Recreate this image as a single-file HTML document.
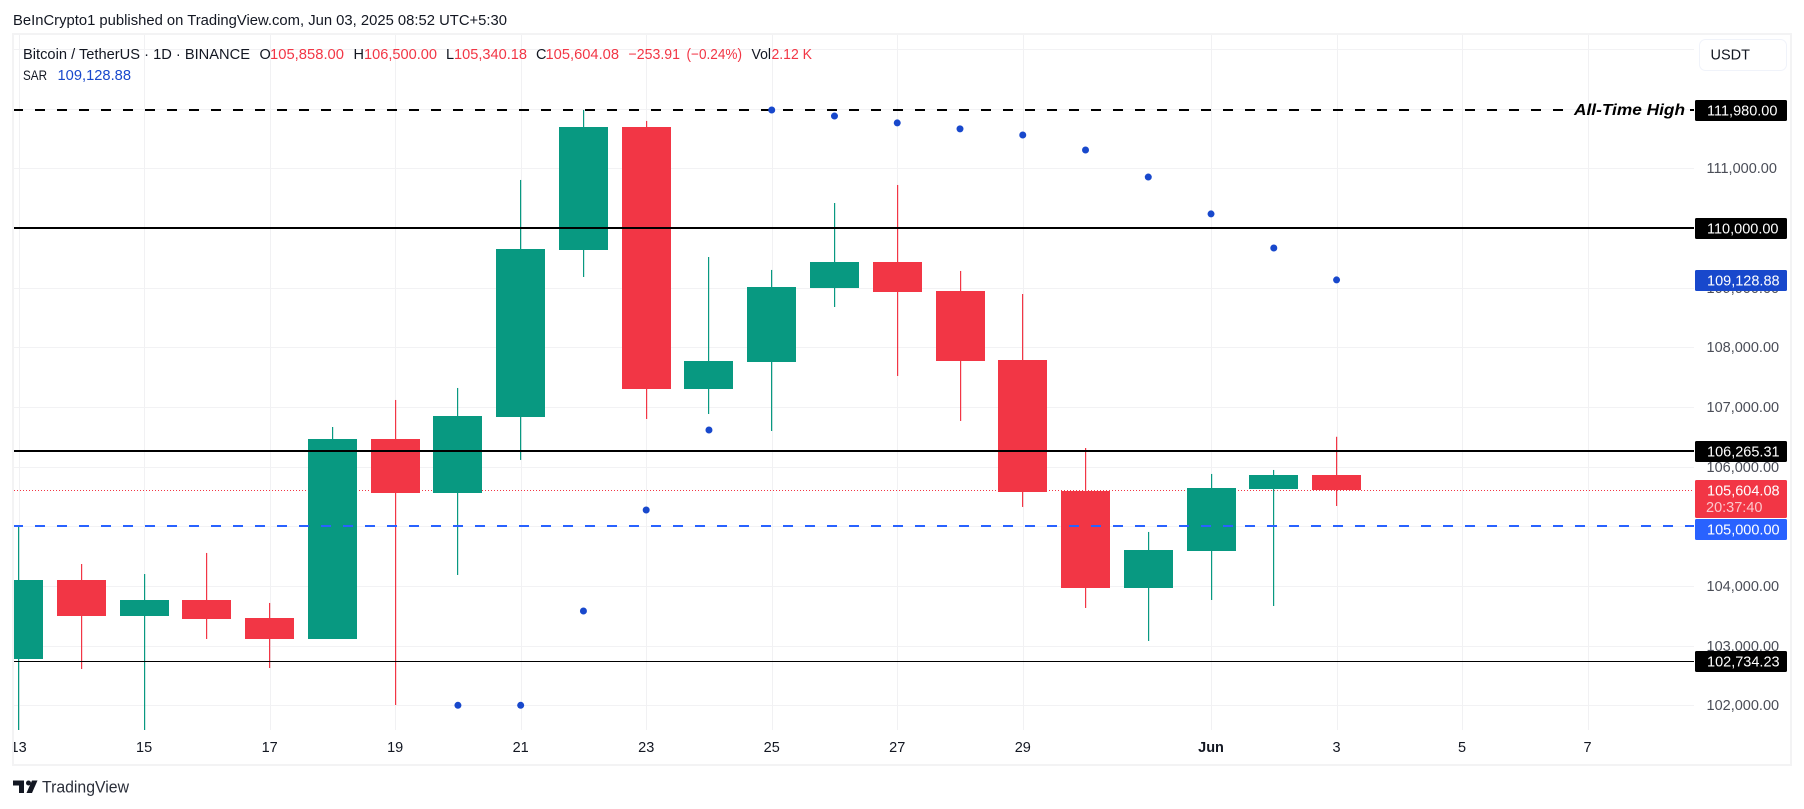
<!DOCTYPE html>
<html lang="en">
<head>
<meta charset="utf-8">
<title>Bitcoin / TetherUS 1D chart</title>
<style>
html,body{margin:0;padding:0;background:#fff;width:1804px;height:809px;overflow:hidden}
svg{display:block;font-family:"Liberation Sans",sans-serif}
</style>
</head>
<body>
<svg id="chart" xmlns="http://www.w3.org/2000/svg" width="1804" height="809" viewBox="0 0 1804 809">
  <defs>
    <clipPath id="pane-clip"><rect x="14" y="35" width="1680" height="695"/></clipPath>
    <clipPath id="axis-clip"><rect x="14" y="730" width="1680" height="34"/></clipPath>
  </defs>
  <rect x="0" y="0" width="1804" height="809" fill="#ffffff"/>
  <text x="13" y="25" font-size="14.5" fill="#131722" textLength="494" lengthAdjust="spacingAndGlyphs">BeInCrypto1 published on TradingView.com, Jun 03, 2025 08:52 UTC+5:30</text>
  <rect x="13" y="34" width="1778" height="731" fill="none" stroke="#f3f3f4" stroke-width="2"/>

  <g id="grid"></g>
  <g id="pane" clip-path="url(#pane-clip)">
    <g id="close-line"></g>
    <g id="candles"></g>
    <g id="levels"></g>
    <g id="sar"></g>
    <text x="1574" y="115" font-size="16" font-style="italic" font-weight="bold" fill="#000000" textLength="111" lengthAdjust="spacingAndGlyphs">All-Time High</text>
  </g>
  <g id="x-axis" clip-path="url(#axis-clip)"></g>
  <g id="y-axis"></g>
  <g id="tags"></g>

  <g font-size="14.5">
    <text x="23" y="59" fill="#131722" textLength="227" lengthAdjust="spacingAndGlyphs">Bitcoin / TetherUS · 1D · BINANCE</text>
    <text x="259.5" y="59" fill="#131722">O</text>
    <text x="270" y="59" fill="#f23645" textLength="74" lengthAdjust="spacingAndGlyphs">105,858.00</text>
    <text x="353.5" y="59" fill="#131722">H</text>
    <text x="364" y="59" fill="#f23645" textLength="73" lengthAdjust="spacingAndGlyphs">106,500.00</text>
    <text x="446" y="59" fill="#131722">L</text>
    <text x="454" y="59" fill="#f23645" textLength="73" lengthAdjust="spacingAndGlyphs">105,340.18</text>
    <text x="536" y="59" fill="#131722">C</text>
    <text x="545.5" y="59" fill="#f23645" textLength="73.5" lengthAdjust="spacingAndGlyphs">105,604.08</text>
    <text x="628.5" y="59" fill="#f23645" textLength="51.5" lengthAdjust="spacingAndGlyphs">−253.91</text>
    <text x="686.5" y="59" fill="#f23645" textLength="55.5" lengthAdjust="spacingAndGlyphs">(−0.24%)</text>
    <text x="751.5" y="59" fill="#131722" textLength="19.5" lengthAdjust="spacingAndGlyphs">Vol</text>
    <text x="771.5" y="59" fill="#f23645" textLength="40.5" lengthAdjust="spacingAndGlyphs">2.12 K</text>
    <text x="23" y="80" fill="#131722" font-size="13.5" textLength="24" lengthAdjust="spacingAndGlyphs">SAR</text>
    <text x="57.5" y="80" fill="#1848cc" textLength="73.5" lengthAdjust="spacingAndGlyphs">109,128.88</text>
  </g>

  <g>
    <rect x="1699.5" y="39.5" width="87" height="31" rx="6" fill="#ffffff" stroke="#f0f3fa"/>
    <text x="1710.5" y="59.5" font-size="14.5" fill="#131722">USDT</text>
  </g>

  <g>
    <g transform="translate(13,780.5)" fill="#131722">
      <path d="M0 0H11V12.5H6V5H0Z"/>
      <circle cx="15.5" cy="2.5" r="2.5"/>
      <path d="M19 0H24.5L19 12.5H13.5Z"/>
    </g>
    <text x="42" y="792.5" font-size="16.5" fill="#2a2e39" textLength="87" lengthAdjust="spacingAndGlyphs">TradingView</text>
  </g>
</svg>

<script>
const categories = ["May 13","May 14","May 15","May 16","May 17","May 18","May 19","May 20","May 21","May 22","May 23","May 24","May 25","May 26","May 27","May 28","May 29","May 30","May 31","Jun 1","Jun 2","Jun 3","Jun 4","Jun 5","Jun 6","Jun 7"];
const opens  = [102776,104100,103497,103765,103463,103111,106463,105558,106832,109631,111692,107301,107754,108994,109430,108944,107787,105592,103966,104586,105625,105858];
const highs  = [105005,104368,104200,104553,103715,106664,107117,107318,110804,111977,111793,109513,109296,110418,110720,109279,108893,106312,104905,105877,105944,106500];
const lows   = [101586,102608,101586,103111,102625,103111,102005,104184,106112,109178,106798,106882,106597,108675,107519,106765,105324,103631,103078,103765,103664,105340.18];
const closes = [104100,103497,103765,103446,103111,106463,105558,106849,109648,111692,107301,107770,109011,109430,108927,107770,105575,103966,104603,105642,105860,105604.08];
const sarDays = ["May 20","May 21","May 22","May 23","May 24","May 25","May 26","May 27","May 28","May 29","May 30","May 31","Jun 1","Jun 2","Jun 3"];
const sarValues = [102000,102000,103580,105273,106614,111977,111875,111760,111660,111558,111306,110853,110235,109664,109128.88];
const priceTicks = [102000,103000,104000,105000,106000,107000,108000,109000,110000,111000,112000,113000];
const priceTickLabels = ["102,000.00","103,000.00","104,000.00","","106,000.00","107,000.00","108,000.00","109,000.00","","111,000.00","",""];
const timeTickDays = ["May 13","May 15","May 17","May 19","May 21","May 23","May 25","May 27","May 29","Jun 1","Jun 3","Jun 5","Jun 7"];
const timeTickLabels = ["13","15","17","19","21","23","25","27","29","Jun","3","5","7"];
const allTimeHigh = 111980;
const upperLevel = 110000;
const middleLevel = 106265.31;
const lowerLevel = 102734.23;
const supportLevel = 105000;
const lastClose = 105604.08;
const lastSar = 109128.88;

const NS = "http://www.w3.org/2000/svg";
const UP = "#089981", DOWN = "#f23645", SAR_BLUE = "#1848cc", LINE_BLUE = "#2962ff";

function xScale(index) { return 18.6 + index * 62.76; }
function xDay(day) { return xScale(categories.indexOf(day)); }
function yScale(price) { return 705.3 - (price - 102000) * 0.05967; }

function make(parent, tag, attrs, text) {
  const el = document.createElementNS(NS, tag);
  for (const k in attrs) el.setAttribute(k, attrs[k]);
  if (text !== undefined) el.textContent = text;
  document.getElementById(parent).appendChild(el);
  return el;
}

priceTicks.forEach(function (p, i) {
  const y = Math.round(yScale(p)) + 0.5;
  const line = make("grid", "line", {x1: 14, x2: 1694, y1: y, y2: y, stroke: "#f2f2f4", "stroke-width": 1});
  
  
  if (priceTickLabels[i]) {
    const t = make("y-axis", "text", {x: 1706.5, y: Math.round(yScale(p)) + 5, "font-size": 14.5, fill: "#4a4d57"}, priceTickLabels[i]);
    
    
  }
});

timeTickDays.forEach(function (d, i) {
  const x = Math.round(xDay(d)) + 0.5;
  const line = make("grid", "line", {x1: x, x2: x, y1: 35, y2: 730, stroke: "#f1f1f3", "stroke-width": 1});
  
  
  const isMonth = timeTickLabels[i] === "Jun";
  const t = make("x-axis", "text", {x: xDay(d), y: 752, "font-size": 14.5, fill: "#131722", "text-anchor": "middle", "font-weight": isMonth ? "bold" : "normal"}, timeTickLabels[i]);
  
  
});

const closeLine = make("close-line", "line", {x1: 14, x2: 1694, y1: Math.round(yScale(lastClose)) + 0.5, y2: Math.round(yScale(lastClose)) + 0.5, stroke: DOWN, "stroke-width": 1, "stroke-dasharray": "1 2"});



opens.forEach(function (o, i) {
  const c = closes[i];
  const color = c >= o ? UP : DOWN;
  const left = Math.round(xScale(i) - 24.5);
  const top = Math.round(yScale(Math.max(o, c)));
  const bottom = Math.round(yScale(Math.min(o, c)));
  const wick = make("candles", "rect", {x: left + 24, y: yScale(highs[i]), width: 1.2, height: yScale(lows[i]) - yScale(highs[i]), fill: color});
  
  
  const body = make("candles", "rect", {x: left, y: top, width: 49, height: Math.max(1, bottom - top), fill: color});
  
  
});

function drawLevel(price, width, color, dash, x1, x2, name) {
  const y = width === 1 ? Math.floor(yScale(price)) + 0.5 : Math.round(yScale(price));
  const attrs = {x1: x1, x2: x2, y1: y, y2: y, stroke: color, "stroke-width": width};
  if (dash) attrs["stroke-dasharray"] = dash;
  const line = make("levels", "line", attrs);
  
  
}
drawLevel(allTimeHigh, 2, "#000000", "10 12", 13, 1565, "all-time-high-line");
drawLevel(allTimeHigh, 2, "#000000", null, 1690, 1694, "all-time-high-line-end");
drawLevel(upperLevel, 2, "#000000", null, 14, 1694, "level-line-110000");
drawLevel(middleLevel, 2, "#000000", null, 14, 1694, "level-line-106265");
drawLevel(lowerLevel, 1, "#000000", null, 14, 1694, "level-line-102734");
drawLevel(supportLevel, 2, LINE_BLUE, "10 12", 13, 1694, "level-line-105000");

sarValues.forEach(function (v, i) {
  const dot = make("sar", "circle", {cx: xDay(sarDays[i]), cy: yScale(v), r: 3.5, fill: SAR_BLUE});
  
  
});

function fmt(p) {
  return p.toLocaleString("en-US", {minimumFractionDigits: 2, maximumFractionDigits: 2});
}
function drawTag(price, bg, top, name) {
  const r = make("tags", "rect", {x: 1695, y: top, width: 92, height: 21, rx: 1.5, fill: bg});
  
  
  const t = make("tags", "text", {x: 1707, y: top + 15.5, "font-size": 14.5, fill: "#ffffff"}, fmt(price));
  
  
}
function tagTop(price) { return Math.round(yScale(price)) - 10; }

drawTag(allTimeHigh, "#000000", tagTop(allTimeHigh), "price-tag-all-time-high");
drawTag(upperLevel, "#000000", tagTop(upperLevel), "price-tag-110000");
drawTag(lastSar, SAR_BLUE, tagTop(lastSar), "price-tag-sar");
drawTag(middleLevel, "#000000", tagTop(middleLevel), "price-tag-106265");
drawTag(lowerLevel, "#000000", tagTop(lowerLevel), "price-tag-102734");

const closeTop = tagTop(lastClose);
const closeBox = make("tags", "rect", {x: 1695, y: closeTop, width: 92, height: 38, rx: 1.5, fill: DOWN});


const closeText = make("tags", "text", {x: 1707, y: closeTop + 15.5, "font-size": 14.5, fill: "#ffffff"}, fmt(lastClose));


const countdown = make("tags", "text", {x: 1706, y: closeTop + 32, "font-size": 14.5, fill: "#ffffff", "fill-opacity": 0.72}, "20:37:40");



drawTag(supportLevel, LINE_BLUE, closeTop + 39, "price-tag-105000");
</script>
</body>
</html>
